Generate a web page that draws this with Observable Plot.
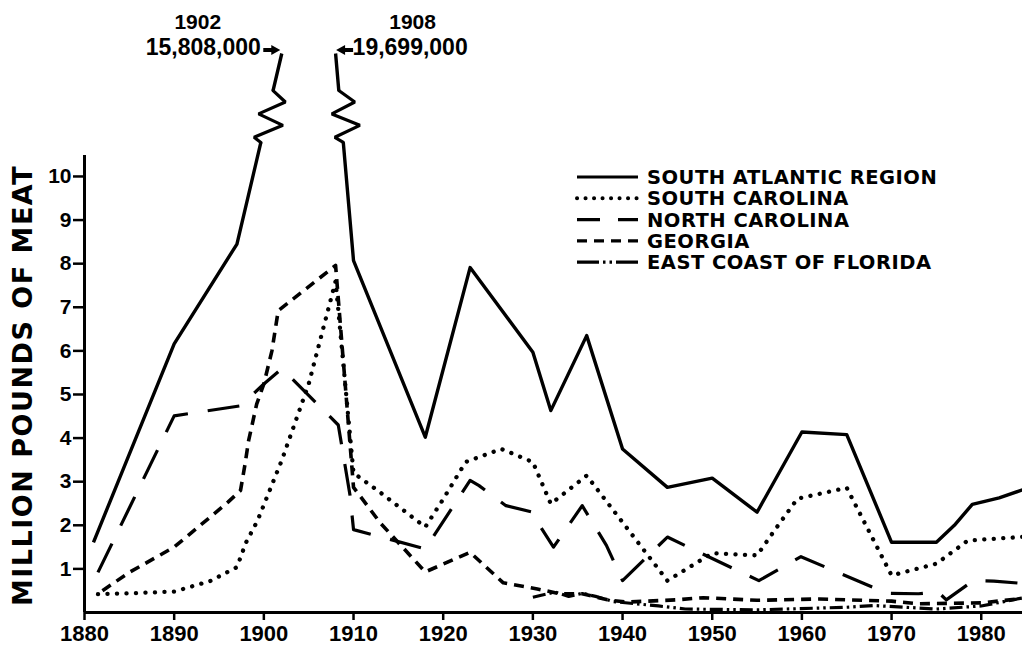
<!DOCTYPE html>
<html><head><meta charset="utf-8">
<script src="https://cdn.jsdelivr.net/npm/d3@7"></script>
<script src="https://cdn.jsdelivr.net/npm/@observablehq/plot@0.6"></script>
<style>
html,body{margin:0;padding:0;background:#fff;}
#chart svg{display:block;}
g[aria-label="x-axis tick"], g[aria-label="y-axis tick"]{stroke-width:2.5px;}
</style></head><body><div id="chart"></div>
<script>
// ---------- data ----------
const seriesNames = ["SOUTH ATLANTIC REGION", "SOUTH CAROLINA", "NORTH CAROLINA", "GEORGIA", "EAST COAST OF FLORIDA"];

const saYears  = [1881, 1890, 1897, 1902, 1908, 1910, 1918, 1923, 1930, 1932, 1936, 1940, 1945, 1950, 1955, 1960, 1965, 1970, 1975, 1977, 1979, 1982, 1985];
const saValues = [1.61, 6.16, 8.45, 15.808, 19.699, 8.07, 4.02, 7.91, 5.97, 4.63, 6.35, 3.75, 2.87, 3.08, 2.30, 4.14, 4.08, 1.61, 1.61, 2.0, 2.48, 2.63, 2.84];

const scYears  = [1881.5, 1885, 1890, 1894, 1897, 1898, 1899.3, 1902, 1905, 1908, 1910, 1913, 1918, 1920, 1922.5, 1926.5, 1930, 1932, 1936, 1945, 1950, 1955, 1957, 1959.5, 1965, 1970, 1975, 1978.5, 1985];
const scValues = [0.42, 0.44, 0.48, 0.72, 1.04, 1.6, 2.11, 3.49, 5.24, 7.6, 3.2, 2.75, 1.96, 2.6, 3.45, 3.75, 3.45, 2.49, 3.14, 0.73, 1.36, 1.31, 1.9, 2.61, 2.86, 0.85, 1.12, 1.65, 1.74];

const ncYears  = [1881.5, 1890, 1897.4, 1900, 1902, 1903, 1908.3, 1909.6, 1910, 1918, 1923, 1924, 1927, 1930, 1930.4, 1932.3, 1935.5, 1938.2, 1940, 1945, 1955.2, 1959.9, 1969.5, 1973, 1975.2, 1976.1, 1979.1, 1981.4, 1985];
const ncValues = [0.92, 4.51, 4.74, 5.24, 5.59, 5.39, 4.3, 2.7, 1.9, 1.46, 3.03, 2.91, 2.45, 2.30, 2.11, 1.50, 2.45, 1.54, 0.73, 1.73, 0.73, 1.28, 0.44, 0.43, 0.47, 0.29, 0.73, 0.72, 0.66];

const gaYears  = [1882, 1885, 1890, 1896, 1897.4, 1897.9, 1898.3, 1899.2, 1900, 1900.9, 1901.6, 1908, 1910, 1913, 1918, 1923, 1926.7, 1930.5, 1933, 1935.5, 1938.6, 1940.5, 1946, 1949, 1955, 1962, 1970, 1973, 1980, 1985];
const gaValues = [0.5, 0.92, 1.5, 2.53, 2.8, 3.4, 3.94, 4.78, 5.24, 6.0, 6.92, 7.96, 2.87, 2.05, 0.93, 1.38, 0.68, 0.54, 0.43, 0.43, 0.28, 0.24, 0.29, 0.34, 0.28, 0.31, 0.26, 0.2, 0.22, 0.33];

const flYears  = [1930, 1932.5, 1934, 1935.5, 1937, 1939, 1944, 1947, 1955, 1965, 1968, 1975, 1980, 1985];
const flValues = [0.35, 0.47, 0.37, 0.44, 0.37, 0.25, 0.15, 0.08, 0.06, 0.12, 0.16, 0.08, 0.15, 0.35];

const xTicks = [1880, 1890, 1900, 1910, 1920, 1930, 1940, 1950, 1960, 1970, 1980];
const yTicks = [1, 2, 3, 4, 5, 6, 7, 8, 9, 10];
const peakYears  = [1902, 1908];
const peakPounds = [15808000, 19699000];
const yTitle = "MILLION POUNDS OF MEAT";

// ---------- layout constants ----------
const X_DOMAIN = [1880, 1984.6];
const TOP = 12.82;        // plotted ceiling for off-scale peaks
const BREAK_LO = 10.78, BREAK_HI = 11.97;
const AXIS_TOP = 10.48;
const W = 1022, H = 645, ML = 84, MR = 0, MT = 53, MB = 33;
const pxPerYear = (W - ML - MR) / (X_DOMAIN[1] - X_DOMAIN[0]);

const toRows = (ys, vs) => ys.map((x, i) => ({x, y: vs[i]}));

function buildBroken(years, values) {
  const pts = years.map((x, i) => ({x, v: values[i]}));
  const out = [], breaks = [];
  pts.forEach((p, i) => {
    const over = p.v > TOP;
    if (i > 0) {
      const q = pts[i - 1], qOver = q.v > TOP;
      if (over && qOver) out.push({x: NaN, y: NaN});
      else if (over) {
        const xl = q.x + (p.x - q.x) * (BREAK_LO - q.v) / (TOP - q.v);
        const xh = q.x + (p.x - q.x) * (BREAK_HI - q.v) / (TOP - q.v);
        out.push({x: xl, y: BREAK_LO}, {x: NaN, y: NaN}, {x: xh, y: BREAK_HI});
        breaks.push([xl, xh]);
      } else if (qOver) {
        const xh = q.x + (p.x - q.x) * (TOP - BREAK_HI) / (TOP - p.v);
        const xl = q.x + (p.x - q.x) * (TOP - BREAK_LO) / (TOP - p.v);
        out.push({x: xh, y: BREAK_HI}, {x: NaN, y: NaN}, {x: xl, y: BREAK_LO});
        breaks.push([xl, xh]);
      }
    }
    out.push({x: p.x, y: Math.min(p.v, TOP)});
  });
  return {out, breaks};
}

const sa = buildBroken(saYears, saValues);
const zigT = [0, 0.1, 0.33, 0.55, 0.78, 1];
const zigOff = [0, -8, 18, -9, 15, 0];
const zigzag = sa.breaks.flatMap(([xl, xh], b) => zigT.map((t, j) => ({
  b, x: xl + (xh - xl) * t + zigOff[j] / pxPerYear, y: BREAK_LO + (BREAK_HI - BREAK_LO) * t
})));

const peaks = peakYears.map((year, i) => ({year, pounds: peakPounds[i]}));
const fmt = d3.format(",");

const STYLES = {
  sa: {strokeWidth: 3.4, strokeDasharray: null, legendDash: null},
  sc: {strokeWidth: 4.3, strokeDasharray: "0.1,9.4", legendDash: "0.1,8.4", cap: "round"},
  nc: {strokeWidth: 3.2, strokeDasharray: "32,20", legendDash: "23,18"},
  ga: {strokeWidth: 3.6, strokeDasharray: "10,7", legendDash: "10,7"},
  fl: {strokeWidth: 3.2, strokeDasharray: "13,4,2.5,4,2.5,4", legendDash: "22,4,2.5,4,2.5,4"}
};

const lineOpts = (s) => ({x: "x", y: "y", stroke: "black", strokeWidth: s.strokeWidth,
  strokeDasharray: s.strokeDasharray || undefined, strokeLinecap: s.cap || "butt", strokeLinejoin: "round"});

const chart = Plot.plot({
  width: W, height: H, marginLeft: ML, marginRight: MR, marginTop: MT, marginBottom: MB,
  x: {domain: X_DOMAIN},
  y: {domain: [0, TOP]},
  style: {fontFamily: "'Liberation Sans', Arial, sans-serif", fontWeight: "bold", background: "white", color: "black"},
  marks: [
    Plot.axisX({ticks: xTicks, tickFormat: d => String(d), tickSize: 8, tickPadding: 5, fontSize: 22, strokeWidth: 2.5, label: null}),
    Plot.axisY({ticks: yTicks, tickFormat: d => String(d), tickSize: 11, tickPadding: 2, fontSize: 21, strokeWidth: 2.5, label: null}),
    Plot.ruleX([X_DOMAIN[0]], {y1: 0, y2: AXIS_TOP, strokeWidth: 3}),
    Plot.ruleY([0], {x1: X_DOMAIN[0], x2: X_DOMAIN[1], strokeWidth: 3}),
    Plot.line(toRows(flYears, flValues), lineOpts(STYLES.fl)),
    Plot.line(toRows(gaYears, gaValues), lineOpts(STYLES.ga)),
    Plot.line(toRows(ncYears, ncValues), lineOpts(STYLES.nc)),
    Plot.line(toRows(scYears, scValues), lineOpts(STYLES.sc)),
    Plot.line(sa.out, lineOpts(STYLES.sa)),
    Plot.line(zigzag, {x: "x", y: "y", z: "b", stroke: "black", strokeWidth: 3.2, strokeLinejoin: "miter"}),
    // peak annotations
    Plot.text([peaks[0]], {x: "year", y: TOP, text: d => String(d.year), dx: -84, dy: -31, fontSize: 21}),
    Plot.text([peaks[0]], {x: "year", y: TOP, text: d => fmt(d.pounds), dx: -21, dy: -6, fontSize: 23, textAnchor: "end"}),
    Plot.text([peaks[1]], {x: "year", y: TOP, text: d => String(d.year), dx: 77, dy: -31, fontSize: 21}),
    Plot.text([peaks[1]], {x: "year", y: TOP, text: d => fmt(d.pounds), dx: 17, dy: -6, fontSize: 23, textAnchor: "start"})
  ]
});

document.getElementById("chart").appendChild(chart);

const sx = chart.scale("x"), sy = chart.scale("y");
const svg = d3.select(chart);

// y-axis title, centred on the axis' value extent
const yMid = (sy.apply(0) + sy.apply(AXIS_TOP)) / 2 + 2;
svg.append("text")
  .attr("transform", `translate(${ML - 62},${yMid}) rotate(-90)`)
  .attr("text-anchor", "middle").attr("dy", "0.36em")
  .attr("font-family", "'DejaVu Sans', sans-serif").attr("font-weight", "bold")
  .attr("font-size", 27).attr("letter-spacing", "1.5px").attr("fill", "black")
  .text(yTitle);

// arrows for peak labels (anchored to peaks through the scales)
function arrow(tipX, tipY, dir) {
  const len = 17, head = 9, hw = 5, sw = 2;
  const bx = tipX - dir * head, tx = tipX - dir * len;
  return `M${tx},${tipY - sw}L${bx},${tipY - sw}L${bx},${tipY - hw}L${tipX},${tipY}L${bx},${tipY + hw}L${bx},${tipY + sw}L${tx},${tipY + sw}Z`;
}
peaks.forEach((p, i) => {
  const px = sx.apply(p.year), py = sy.apply(TOP);
  const dir = i === 0 ? 1 : -1;
  svg.append("path").attr("d", arrow(px - dir * 1, py - 3, dir)).attr("fill", "black");
});

// legend
const legendKeys = ["sa", "sc", "nc", "ga", "fl"];
const lg = svg.append("g").attr("aria-label", "legend");
legendKeys.forEach((k, i) => {
  const yy = 177 + i * 21.3;
  const s = STYLES[k];
  lg.append("line").attr("x1", 577).attr("x2", 638).attr("y1", yy).attr("y2", yy)
    .attr("stroke", "black").attr("stroke-width", k === "sc" ? 4 : 3.2)
    .attr("stroke-dasharray", s.legendDash)
    .attr("stroke-linecap", s.cap || "butt");
  lg.append("text").attr("x", 647).attr("y", yy).attr("dy", "0.36em")
    .attr("text-anchor", "start")
    .attr("font-family", "'DejaVu Sans', sans-serif").attr("font-weight", "bold")
    .attr("font-size", 19.5).attr("letter-spacing", "0.5px").attr("fill", "black")
    .text(seriesNames[i]);
});
</script>
</body></html>
